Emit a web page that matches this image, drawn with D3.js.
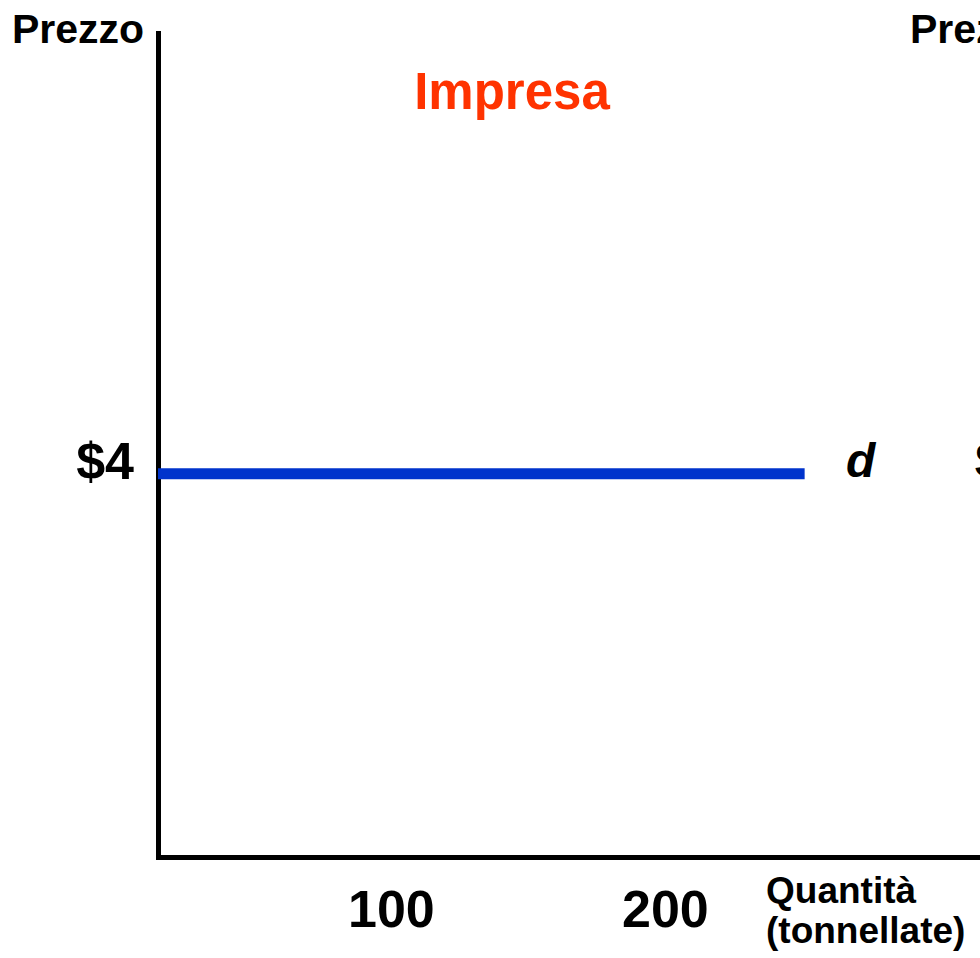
<!DOCTYPE html>
<html>
<head>
<meta charset="utf-8">
<script src="https://cdn.jsdelivr.net/npm/d3@7"></script>
<style>
  body { margin: 0; background: #fff; }
  text { font-family: "Liberation Sans", Arial, Helvetica, sans-serif; font-weight: bold; }
</style>
</head>
<body>
<script>
// values
var qtyTicks = [100, 200];
var priceTicks = [4];
var demandQty = [15, 251];
var demandPrice = [4, 4];

var width = 980, height = 958;

var svg = d3.select("body").append("svg")
    .attr("width", width)
    .attr("height", height);

var xScale = d3.scaleLinear()
    .domain([15, 315])
    .range([158, 980]);

var yScale = d3.scaleLinear()
    .domain([0, 8.6])
    .range([857, 33]);

var xAxis = d3.axisBottom(xScale)
    .tickValues(qtyTicks)
    .tickSize(0)
    .tickSizeOuter(0);

var yAxis = d3.axisLeft(yScale)
    .tickValues(priceTicks)
    .tickFormat(d => "$" + d)
    .tickSize(0)
    .tickSizeOuter(0);

svg.append("g")
    .attr("transform", "translate(0,857)")
    .call(xAxis)
    .call(g => g.select(".domain")
        .attr("stroke", "#000")
        .attr("stroke-width", 5)
        .attr("stroke-linecap", "square"))
    .call(g => g.selectAll("text")
        .attr("y", 70)
        .attr("dy", null)
        .attr("fill", "#000")
        .attr("font-family", null)
        .attr("font-size", "52px"));

svg.append("g")
    .attr("transform", "translate(158,0)")
    .call(yAxis)
    .call(g => g.select(".domain")
        .attr("stroke", "#000")
        .attr("stroke-width", 5)
        .attr("stroke-linecap", "square"))
    .call(g => g.selectAll("text")
        .attr("x", -24)
        .attr("dy", "0.1em")
        .attr("fill", "#000")
        .attr("font-family", null)
        .attr("font-size", "52px"));

// demand curve of the firm (horizontal at the market price)
var line = d3.line()
    .x(d => xScale(d[0]))
    .y(d => yScale(d[1]));

svg.append("path")
    .datum(d3.zip(demandQty, demandPrice))
    .attr("d", line)
    .attr("fill", "none")
    .attr("stroke", "#0033cc")
    .attr("stroke-width", 11);

svg.append("text")
    .attr("x", 846)
    .attr("y", 477)
    .attr("font-size", "48px")
    .attr("font-style", "italic")
    .text("d");

svg.append("text")
    .attr("x", 974)
    .attr("y", 477)
    .attr("font-size", "48px")
    .text("S");

svg.append("text")
    .attr("x", 12)
    .attr("y", 43)
    .attr("font-size", "41px")
    .text("Prezzo");

svg.append("text")
    .attr("x", 910)
    .attr("y", 43)
    .attr("font-size", "41px")
    .text("Prezzo");

svg.append("text")
    .attr("x", 512)
    .attr("y", 109)
    .attr("text-anchor", "middle")
    .attr("font-size", "51px")
    .attr("fill", "#ff3300")
    .text("Impresa");

svg.append("text")
    .attr("x", 766)
    .attr("y", 903)
    .attr("font-size", "37px")
    .text("Quantità");

svg.append("text")
    .attr("x", 766)
    .attr("y", 943)
    .attr("font-size", "37px")
    .text("(tonnellate)");
</script>
</body>
</html>
